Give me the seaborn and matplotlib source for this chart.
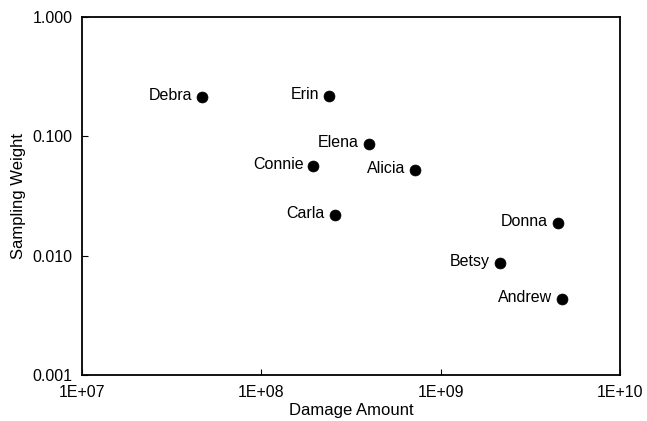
import numpy as np
import pandas as pd
import matplotlib
matplotlib.use("Agg")
import matplotlib.pyplot as plt
import matplotlib.ticker as mticker
import seaborn as sns

# Hurricane data
names = ["Debra", "Erin", "Elena", "Connie", "Alicia", "Carla", "Donna", "Betsy", "Andrew"]
damage = [4.68e7, 2.37e8, 3.96e8, 1.95e8, 7.16e8, 2.56e8, 4.51e9, 2.14e9, 4.74e9]
weight = [0.213, 0.218, 0.0862, 0.0564, 0.0522, 0.0219, 0.0188, 0.00867, 0.00433]

x_ticks = [1e7, 1e8, 1e9, 1e10]
y_ticks = [0.001, 0.01, 0.1, 1.0]

df = pd.DataFrame({"name": names, "damage": damage, "weight": weight})

sns.set_style("ticks")
plt.rcParams["font.family"] = ["Liberation Sans", "DejaVu Sans"]
plt.rcParams["text.color"] = "black"
plt.rcParams["axes.labelcolor"] = "black"

fig = plt.figure(figsize=(6.47, 4.21), dpi=100)
ax = fig.add_axes([0.127, 0.109, 0.831, 0.851])

sns.scatterplot(data=df, x="damage", y="weight", ax=ax, color="black",
                s=62, edgecolor="black", linewidth=0.5, legend=False, zorder=3)

for _, row in df.iterrows():
    ax.annotate(row["name"], xy=(row["damage"], row["weight"]),
                xytext=(-7, 1), textcoords="offset points",
                ha="right", va="center", fontsize=11.5, color="black")

ax.set_xscale("log")
ax.set_yscale("log")
ax.set_xlim(x_ticks[0], x_ticks[-1])
ax.set_ylim(y_ticks[0], y_ticks[-1])
ax.set_xticks(x_ticks)
ax.set_yticks(y_ticks)
ax.xaxis.set_minor_locator(mticker.NullLocator())
ax.yaxis.set_minor_locator(mticker.NullLocator())
ax.xaxis.set_major_formatter(mticker.FuncFormatter(lambda v, p: f"1E+{int(round(np.log10(v))):02d}"))
ax.yaxis.set_major_formatter(mticker.FuncFormatter(lambda v, p: f"{v:.3f}"))
ax.tick_params(direction="in", length=4, width=0.8, labelsize=11.5, colors="black", pad=7)

for sp in ax.spines.values():
    sp.set_visible(True)
    sp.set_linewidth(1.3)
    sp.set_color("black")

ax.set_xlabel("Damage Amount", fontsize=12, labelpad=2, color="black")
ax.set_ylabel("Sampling Weight", fontsize=12, labelpad=5, color="black")

fig.savefig("out.png", dpi=100)
